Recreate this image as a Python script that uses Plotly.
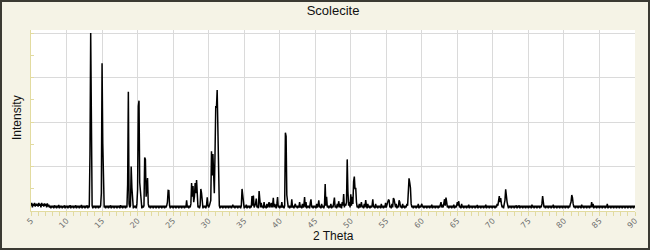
import numpy as np
import plotly.graph_objects as go

# 2-theta sampling: 5.0 .. 90.0 in 0.1 degree steps (one row per degree)
theta_start = 5.0
theta_step = 0.1

intensity_rows = [
    [3, 4.5, 2, 4, 3, 4.5, 2.5, 4, 3, 4],          # 5
    [2.5, 4.5, 3, 4, 2, 4.5, 3, 4, 2.5, 4.2],      # 6
    [3, 4, 2, 4.3, 2.5, 3.5, 2, 3, 1.5, 3],        # 7
    [2, 3, 1.5, 3.2, 2, 3, 1.5, 3, 2, 3.4],        # 8
    [1.5, 3, 2, 3, 1.5, 2.8, 2, 3.2, 1.5, 3],      # 9
    [2, 3, 1.5, 3, 2, 3.3, 1.5, 3, 2, 3],          # 10
    [1.5, 3, 2, 3.2, 1.5, 3, 2, 3, 1.5, 3],        # 11
    [2, 3.4, 1.5, 3, 2, 3, 1.5, 3, 2, 3.2],        # 12
    [1.5, 3, 2, 32, 100, 8, 3, 1.5, 3, 2],         # 13
    [3, 1.5, 3, 2, 3, 1.5, 3, 2, 3, 10],           # 14
    [83, 38, 3, 2, 3, 1.5, 3, 2, 3, 1.5],          # 15
    [3, 2, 3.2, 1.5, 3, 2, 3, 1.5, 3, 2],          # 16
    [3, 1.5, 3, 2, 3, 1.5, 3.3, 2, 3, 1.5],        # 17
    [3, 2, 3, 1.5, 3, 2, 15, 67, 4, 2],            # 18
    [3, 25, 13, 3, 1.5, 3, 2, 3, 1.5, 4],          # 19
    [12, 59, 62, 16, 9, 3, 1.5, 3, 2, 3],          # 20
    [30, 29, 8, 13, 18.5, 4, 2, 3, 1.5, 3],        # 21
    [2, 3, 1.5, 3, 2, 3, 1.5, 3, 2, 3],            # 22
    [1.5, 3, 2, 3, 1.5, 3, 2, 3, 1.5, 3],          # 23
    [2, 3, 5, 11.6, 11.5, 3, 1.5, 3, 2, 3],        # 24
    [1.5, 3, 2, 3, 1.5, 3, 2, 3, 1.5, 3],          # 25
    [2, 3, 1.5, 3, 2, 3, 1.5, 3, 2, 6],            # 26
    [2, 3, 1.5, 3, 2, 4, 15.7, 8, 14, 5],          # 27
    [8, 15.7, 10, 17.4, 4, 2, 3, 1.5, 3, 12.4],    # 28
    [10, 3, 1.5, 3, 2, 3, 1.5, 3, 7.7, 3],         # 29
    [2, 3, 4, 6, 33.5, 20, 32, 14, 10, 33],        # 30
    [59, 58, 68, 38, 5, 3, 1.5, 3, 2, 3],          # 31
    [1.5, 3, 2, 3, 1.5, 3, 2, 3, 1.5, 3],          # 32
    [2, 3, 1.5, 3, 3.5, 2, 3, 1.5, 3, 2],          # 33
    [3, 1.5, 3, 2, 3, 1.5, 3, 12.4, 8, 3],         # 34
    [1.5, 3, 2, 3.5, 1.5, 3, 2, 3, 1.5, 3],        # 35
    [2, 8.4, 3, 8.7, 2, 3, 4, 7, 2, 3],            # 36
    [1.5, 11.2, 3, 2, 4.5, 2, 3, 1.5, 5, 2],       # 37
    [3, 1.5, 4, 2, 3, 5, 2, 3, 4.5, 2],            # 38
    [3, 7.4, 2, 4, 3, 1.5, 4, 7.8, 2, 3],          # 39
    [1.5, 3, 2, 5, 2, 3, 1.5, 3, 44, 42],          # 40
    [9, 3, 2, 3, 1.5, 3, 2, 6.5, 2, 3],            # 41
    [1.5, 3, 4, 2, 3, 1.5, 3, 2, 5, 2],            # 42
    [3, 1.5, 4, 2, 3, 7.8, 2, 5, 1.5, 3],          # 43
    [2, 3, 1.5, 4.5, 6.5, 2, 3, 1.5, 3, 2],        # 44
    [3, 1.5, 4, 2, 3, 6, 2, 3, 1.5, 4],            # 45
    [2, 3, 1.5, 3, 15.2, 3, 8, 2, 3, 1.5],         # 46
    [3, 2, 4, 1.5, 3, 2, 5, 7.5, 2, 3],            # 47
    [1.5, 4, 2, 5.5, 3, 2, 4, 1.5, 5, 3],          # 48
    [9.5, 2, 4, 3, 5, 29, 11, 3, 5, 2],            # 49
    [9.4, 3, 8, 4, 16.5, 19.3, 12.2, 13, 5, 2],    # 50
    [3, 1.5, 4, 2, 3, 5, 2, 3, 1.5, 4],            # 51
    [2, 6.2, 3, 1.5, 4, 2, 3, 1.5, 3, 2],          # 52
    [3, 6.5, 2, 3, 1.5, 4, 2, 3, 1.5, 3],          # 53
    [2, 3, 1.5, 4, 2, 3, 1.5, 3, 2, 4.5],          # 54
    [2, 3, 5, 6.2, 6, 2, 3, 1.5, 4, 2],            # 55
    [7.3, 6.5, 3, 2, 4, 1.5, 3, 2, 6, 5],          # 56
    [2, 3, 1.5, 4, 2, 3, 1.5, 3, 2, 4],            # 57
    [3, 17.4, 18.4, 16, 13, 4, 2, 3, 1.5, 3],      # 58
    [2, 3, 1.5, 3, 2, 4, 1.5, 3, 2, 3],            # 59
    [4, 2, 3, 1.5, 3, 2, 3, 1.5, 3, 2],            # 60
    [3, 1.5, 3, 2, 3.5, 1.5, 3, 2, 3, 1.5],        # 61
    [3, 2, 3, 1.5, 3, 2, 3, 5, 2, 3.5],            # 62
    [2, 5, 6.6, 3, 7.5, 5, 2, 3, 1.5, 3],          # 63
    [2, 3, 1.5, 3, 2, 3.5, 1.5, 3, 2, 3],          # 64
    [5, 3, 5.5, 2, 3, 1.5, 4, 2, 3, 1.5],          # 65
    [3, 2, 3, 1.5, 3, 2, 3.5, 1.5, 3, 2],          # 66
    [3, 1.5, 3, 2, 3, 1.5, 3, 2, 3.4, 1.5],        # 67
    [3, 2, 3, 1.5, 3, 2, 3, 1.5, 3, 2],            # 68
    [3.5, 1.5, 3, 2, 3, 1.5, 3, 2, 3, 1.5],        # 69
    [3, 2, 3, 1.5, 3, 2, 4, 3, 5, 8.4],            # 70
    [5, 7.3, 4, 2, 3, 1.5, 4, 6, 12.2, 6],         # 71
    [5, 3, 1.5, 3, 2, 3, 1.5, 3, 2, 3],            # 72
    [1.5, 3, 2, 3.2, 1.5, 3, 2, 3.2, 1.5, 3],      # 73
    [2, 3, 1.5, 3, 2, 3, 1.5, 3, 2, 3],            # 74
    [1.5, 3, 2, 3, 1.5, 3.5, 2, 3, 1.5, 3],        # 75
    [2, 3, 1.5, 3, 2, 3, 1.5, 3, 2, 4],            # 76
    [8.4, 5, 2, 3, 1.5, 3, 2, 3, 1.5, 3],          # 77
    [2, 3, 1.5, 3, 2, 3.5, 1.5, 3, 2, 3],          # 78
    [1.5, 3, 2, 3, 1.5, 3, 2, 3, 1.5, 3],          # 79
    [2, 3, 1.5, 3, 2, 3, 1.5, 3, 2, 4],            # 80
    [5, 9, 7.5, 4, 2, 3, 1.5, 3, 2, 3],            # 81
    [1.5, 3, 2, 3, 1.5, 3.5, 2, 3, 1.5, 3],        # 82
    [2, 3, 1.5, 3, 2, 3, 1.5, 3, 2, 5],            # 83
    [2, 4, 1.5, 3, 2, 3, 1.5, 3, 2, 3],            # 84
    [1.5, 3, 2, 3, 1.5, 3, 2, 3, 1.5, 3],          # 85
    [2, 4, 1.5, 3, 2, 3, 1.5, 3, 2, 3],            # 86
    [1.5, 3, 2, 3, 1.5, 3, 2, 3, 1.5, 3],          # 87
    [2, 3, 1.5, 3, 2, 3, 1.5, 3, 2, 3],            # 88
    [1.5, 3, 2, 3, 1.5, 3, 2, 3, 1.5, 3],          # 89
    [2],                                           # 90.0
]

x_tick_values = list(range(5, 95, 5))
x_tick_labels = [str(v) for v in x_tick_values]

title_text = "Scolecite"
x_title = "2 Theta"
y_title = "Intensity"

intensity = [v for row in intensity_rows for v in row]
two_theta = np.round(theta_start + theta_step * np.arange(len(intensity)), 2)

BG = "#F5F3E6"
AXIS = "#E2DBA0"
GRID = "#DADADA"

W, H = 650, 250
ML, MR, MT, MB = 31, 15, 30, 39
PW, PH = W - ML - MR, H - MT - MB

def px_x(p):
    return (p - ML) / PW

def px_y(p):
    return (H - MB - p) / PH

fig = go.Figure()
fig.add_trace(go.Scatter(
    x=two_theta, y=intensity, mode="lines",
    line=dict(color="black", width=1.5),
    hoverinfo="skip", showlegend=False,
))

fig.update_layout(
    width=W, height=H,
    margin=dict(l=ML, r=MR, t=MT, b=MB, pad=0),
    paper_bgcolor=BG, plot_bgcolor="white",
    title=dict(text=title_text, x=0.5, xref="paper", xanchor="center",
               y=1 - 10 / H, yref="container", yanchor="middle",
               font=dict(family="Liberation Sans, Arial", size=13, color="#111111")),
    font=dict(family="Liberation Sans, Arial", color="#111111"),
    xaxis=dict(
        range=[5, 90], tickmode="array", tickvals=x_tick_values, ticktext=x_tick_labels,
        tickangle=-45, ticks="outside", ticklen=4, tickcolor=AXIS, tickwidth=1,
        tickfont=dict(family="DejaVu Sans", size=8, color="#707070"),
        ticklabelstandoff=-3,
        showline=True, linecolor=AXIS, linewidth=1,
        showgrid=True, gridcolor=GRID, gridwidth=1, zeroline=False,
        minor=dict(dtick=1, ticks="outside", ticklen=4, tickcolor=AXIS, showgrid=False),
        automargin=False,
    ),
    yaxis=dict(
        range=[0, 101.7], tickmode="linear", tick0=0, dtick=25,
        showticklabels=False, ticks="inside", ticklen=3, tickcolor=AXIS,
        showline=True, linecolor=AXIS, linewidth=1,
        showgrid=True, gridcolor=GRID, gridwidth=1, zeroline=False,
        minor=dict(dtick=12.5, ticks="inside", ticklen=3, tickcolor=AXIS, showgrid=False),
        automargin=False,
    ),
    annotations=[
        dict(text=x_title, xref="paper", yref="paper", x=px_x(333), y=px_y(236),
             xanchor="center", yanchor="middle", showarrow=False,
             font=dict(family="Liberation Sans, Arial", size=12, color="#111111")),
        dict(text=y_title, xref="paper", yref="paper", x=px_x(17), y=px_y(118),
             xanchor="center", yanchor="middle", showarrow=False, textangle=-90,
             font=dict(family="Liberation Sans, Arial", size=12, color="#111111")),
    ],
    shapes=[dict(
        type="rect", xref="paper", yref="paper",
        x0=px_x(1), x1=px_x(W - 1), y0=px_y(H - 1), y1=px_y(1),
        line=dict(color="#3B3A33", width=2), fillcolor="rgba(0,0,0,0)", layer="above",
    )],
    hovermode=False,
)

fig.write_html("out.html")
